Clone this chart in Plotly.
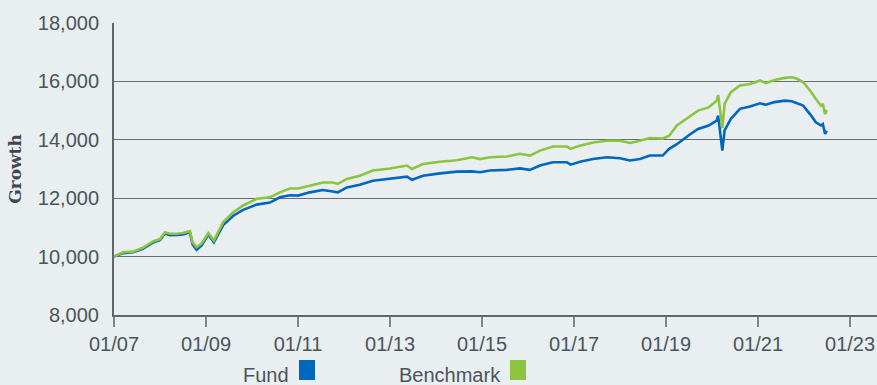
import plotly.graph_objects as go

# Growth of 10,000 — observation dates and values for each series
dates = [
    "2007-01-02", "2007-03-14", "2007-05-31", "2007-08-19", "2007-11-06",
    "2008-01-01", "2008-02-10", "2008-03-20", "2008-05-12", "2008-07-01",
    "2008-08-26", "2008-09-16", "2008-10-18", "2008-11-27", "2009-01-19",
    "2009-03-04", "2009-05-17", "2009-08-05", "2009-10-23", "2010-02-07",
    "2010-05-23", "2010-08-10", "2010-10-29", "2011-01-01", "2011-04-05",
    "2011-07-17", "2011-10-04", "2011-11-13", "2012-01-24", "2012-05-06",
    "2012-08-18", "2013-01-01", "2013-05-15", "2013-06-24", "2013-09-19",
    "2014-02-01", "2014-06-16", "2014-10-13", "2014-12-16", "2015-03-04",
    "2015-07-17", "2015-10-28", "2016-01-16", "2016-04-05", "2016-07-17",
    "2016-11-05", "2016-12-05", "2017-02-17", "2017-05-31", "2017-09-19",
    "2018-01-01", "2018-03-20", "2018-06-08", "2018-08-26", "2018-12-05",
    "2019-01-26", "2019-03-28", "2019-06-25", "2019-09-12", "2019-12-05",
    "2020-02-07", "2020-02-19", "2020-03-23", "2020-04-10", "2020-05-30",
    "2020-08-10", "2020-10-29", "2021-01-16", "2021-03-04", "2021-05-12",
    "2021-07-31", "2021-09-25", "2021-11-06", "2021-12-25", "2022-02-17",
    "2022-04-05", "2022-05-15", "2022-05-30", "2022-06-17", "2022-06-30",
]

fund = [
    10000, 10120, 10150, 10270, 10480,
    10560, 10790, 10730, 10740, 10760,
    10830, 10420, 10230, 10380, 10760,
    10490, 11080, 11400, 11600, 11780,
    11850, 12030, 12100, 12090, 12200,
    12280, 12230, 12200, 12370, 12460,
    12600, 12680, 12740, 12630, 12770,
    12850, 12910, 12920, 12890, 12950,
    12970, 13020, 12970, 13120, 13230,
    13230, 13150, 13250, 13340, 13400,
    13370, 13290, 13340, 13460, 13460,
    13690, 13850, 14140, 14370, 14490,
    14660, 14830, 13630, 14320, 14720,
    15060, 15140, 15250, 15200, 15290,
    15340, 15320, 15260, 15170, 14880,
    14600, 14490, 14540, 14200, 14310,
]

benchmark = [
    10000, 10150, 10170, 10300, 10520,
    10600, 10830, 10780, 10780, 10810,
    10870, 10490, 10320, 10450, 10810,
    10550, 11180, 11520, 11750, 11980,
    12030, 12200, 12330, 12330, 12430,
    12540, 12540, 12490, 12660, 12770,
    12950, 13020, 13120, 13000, 13170,
    13250, 13300, 13400, 13340, 13400,
    13430, 13520, 13460, 13630, 13770,
    13770, 13690, 13800, 13910, 13970,
    13970, 13890, 13970, 14060, 14040,
    14140, 14490, 14750, 15000, 15110,
    15340, 15530, 14400, 15230, 15630,
    15860, 15910, 16030, 15940, 16050,
    16120, 16140, 16090, 15970, 15690,
    15400, 15170, 15230, 14880, 15020,
]

series_names = ["Fund", "Benchmark"]
series_colors = ["#0067bf", "#8cc43f"]

BG = "#e9eef1"
GRID = "#646e73"
AXIS = "#5d676c"
TEXT = "#4a555b"

W, H = 877, 385
M_L, M_R, M_T, M_B = 114, 0, 23, 70
PW, PH = W - M_L - M_R, H - M_T - M_B


def px_x(x):
    return (x - M_L) / PW


def px_y(y):
    return (H - M_B - y) / PH


fig = go.Figure()
for name, vals, col in zip(series_names, [fund, benchmark], series_colors):
    fig.add_trace(go.Scatter(
        x=dates, y=vals, name=name, mode="lines",
        line=dict(color=col, width=2.6), showlegend=False,
    ))

# Legend drawn below the axis: label text followed by a colour swatch
legend_items = [
    (series_names[0], series_colors[0], 291, 299),
    (series_names[1], series_colors[1], 503, 510),
]
for name, col, text_right, sw_left in legend_items:
    fig.add_annotation(
        text=name, xref="paper", yref="paper",
        x=px_x(text_right), y=px_y(375), xanchor="right", yanchor="middle",
        showarrow=False, font=dict(size=20, color=TEXT),
    )
    fig.add_shape(
        type="rect", xref="paper", yref="paper",
        x0=px_x(sw_left), x1=px_x(sw_left + 16),
        y0=px_y(380), y1=px_y(360),
        fillcolor=col, line=dict(width=0),
    )

fig.update_layout(
    width=W, height=H,
    margin=dict(l=M_L, r=M_R, t=M_T, b=M_B, pad=0),
    paper_bgcolor=BG, plot_bgcolor=BG,
    font=dict(family="Liberation Sans, Arial, sans-serif", color=TEXT, size=20),
    hovermode=False,
    xaxis=dict(
        type="date", range=["2007-01-01", "2023-08-03"],
        tick0="2007-01-01", dtick="M24", tickformat="%m/%y",
        ticks="outside", ticklen=10, tickwidth=1.5, tickcolor="#7d878c",
        showline=True, linecolor=AXIS, linewidth=2,
        showgrid=False, zeroline=False,
        tickfont=dict(size=20, color=TEXT),
    ),
    yaxis=dict(
        range=[8000, 18000], dtick=2000, tickformat=",",
        showgrid=True, gridcolor=GRID, gridwidth=1,
        showline=True, linecolor=AXIS, linewidth=2,
        zeroline=False, ticks="", ticklabelstandoff=9,
        tickfont=dict(size=20, color=TEXT),
        title=dict(
            text="Growth", standoff=12,
            font=dict(family="DejaVu Serif", size=17, color="#3e484d", weight="bold"),
        ),
    ),
)

fig.write_html("out.html")
